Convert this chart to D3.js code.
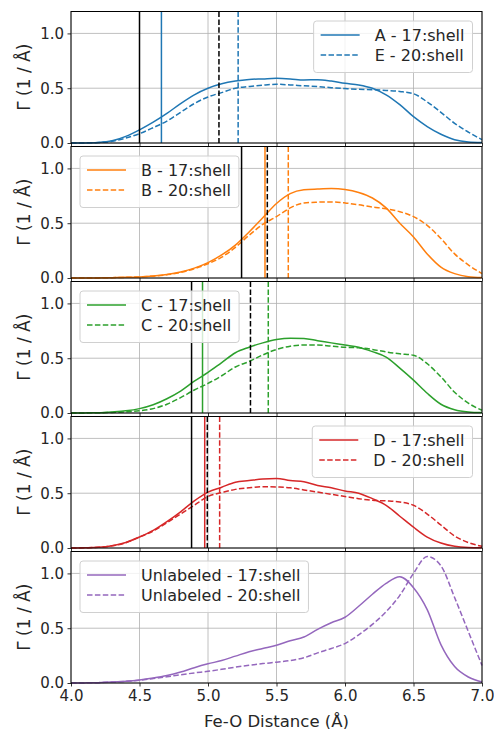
<!DOCTYPE html>
<html>
<head>
<meta charset="utf-8">
<script src="https://cdn.jsdelivr.net/npm/d3@7"></script>
<style>
  body { margin: 0; background: #fff; }
  svg { display: block; font-family: "DejaVu Sans", sans-serif; }
</style>
</head>
<body>
<div id="chart"></div>
<script>
// === Data ===
const distance = [4.0, 4.1, 4.2, 4.3, 4.4, 4.5, 4.6, 4.7, 4.8, 4.9, 5.0, 5.1, 5.2, 5.3, 5.4, 5.5,
                  5.6, 5.7, 5.8, 5.9, 6.0, 6.1, 6.2, 6.3, 6.4, 6.5, 6.6, 6.7, 6.8, 6.9, 7.0];

const seriesA17 = [0, 0.001, 0.005, 0.02, 0.06, 0.12, 0.19, 0.27, 0.36, 0.44, 0.50, 0.54, 0.565, 0.58, 0.585, 0.59,
                   0.585, 0.575, 0.578, 0.565, 0.545, 0.53, 0.50, 0.44, 0.35, 0.24, 0.15, 0.08, 0.03, 0.01, 0.005];
const seriesE20 = [0, 0.001, 0.004, 0.015, 0.045, 0.085, 0.14, 0.20, 0.28, 0.36, 0.42, 0.46, 0.50, 0.515, 0.528, 0.536,
                   0.53, 0.522, 0.515, 0.505, 0.497, 0.49, 0.487, 0.48, 0.47, 0.45, 0.375, 0.28, 0.18, 0.10, 0.03];
const seriesB17 = [0, 0, 0.001, 0.003, 0.006, 0.01, 0.018, 0.032, 0.055, 0.09, 0.14, 0.21, 0.30, 0.42, 0.55, 0.68,
                   0.77, 0.805, 0.812, 0.816, 0.807, 0.78, 0.73, 0.64, 0.50, 0.375, 0.22, 0.10, 0.04, 0.012, 0.004];
const seriesB20 = [0, 0, 0.001, 0.003, 0.006, 0.01, 0.017, 0.03, 0.05, 0.085, 0.13, 0.19, 0.28, 0.39, 0.49, 0.56,
                   0.64, 0.685, 0.692, 0.694, 0.685, 0.668, 0.648, 0.632, 0.605, 0.56, 0.48, 0.36, 0.22, 0.12, 0.04];
const seriesC17 = [0, 0.001, 0.003, 0.01, 0.02, 0.04, 0.075, 0.13, 0.20, 0.29, 0.37, 0.46, 0.55, 0.60, 0.64, 0.67,
                   0.683, 0.68, 0.66, 0.64, 0.62, 0.60, 0.56, 0.51, 0.41, 0.30, 0.18, 0.08, 0.03, 0.01, 0.004];
const seriesC20 = [0, 0.001, 0.002, 0.005, 0.01, 0.02, 0.04, 0.08, 0.14, 0.21, 0.27, 0.34, 0.42, 0.47, 0.53, 0.58,
                   0.61, 0.62, 0.62, 0.61, 0.60, 0.595, 0.58, 0.557, 0.54, 0.527, 0.45, 0.33, 0.19, 0.09, 0.025];
const seriesD17 = [0, 0.002, 0.006, 0.02, 0.05, 0.10, 0.16, 0.24, 0.33, 0.43, 0.51, 0.555, 0.60, 0.615, 0.63, 0.635,
                   0.615, 0.605, 0.57, 0.55, 0.52, 0.50, 0.45, 0.39, 0.29, 0.19, 0.10, 0.045, 0.015, 0.005, 0.003];
const seriesD20 = [0, 0.002, 0.006, 0.02, 0.048, 0.10, 0.155, 0.23, 0.31, 0.39, 0.47, 0.505, 0.535, 0.55, 0.56, 0.557,
                   0.55, 0.53, 0.51, 0.49, 0.47, 0.45, 0.435, 0.43, 0.42, 0.39, 0.31, 0.21, 0.11, 0.05, 0.015];
const seriesU17 = [0, 0.001, 0.003, 0.008, 0.015, 0.027, 0.045, 0.068, 0.10, 0.14, 0.175, 0.205, 0.245, 0.285, 0.315, 0.345,
                   0.385, 0.42, 0.49, 0.55, 0.60, 0.70, 0.81, 0.91, 0.97, 0.87, 0.67, 0.35, 0.15, 0.055, 0.01];
const seriesU20 = [0, 0.001, 0.003, 0.008, 0.015, 0.025, 0.04, 0.057, 0.075, 0.092, 0.107, 0.125, 0.145, 0.162, 0.177, 0.19,
                   0.205, 0.23, 0.275, 0.315, 0.36, 0.44, 0.535, 0.65, 0.80, 1.00, 1.155, 1.07, 0.78, 0.47, 0.16];

// vertical markers: [17:shell, 20:shell] in series colour, and black reference pair
const markersColor = [[4.66, 5.22], [5.416, 5.586], [4.96, 5.44], [4.976, 5.085], []];
const markersBlack = [[4.50, 5.08], [5.245, 5.433], [4.88, 5.31], [4.88, 4.995], []];

const labels17 = ["A - 17:shell", "B - 17:shell", "C - 17:shell", "D - 17:shell", "Unlabeled - 17:shell"];
const labels20 = ["E - 20:shell", "B - 20:shell", "C - 20:shell", "D - 20:shell", "Unlabeled - 20:shell"];
const colors = ["#1f77b4", "#ff7f0e", "#2ca02c", "#d62728", "#9467bd"];
const legendSide = ["right", "left", "left", "right", "left"];
const solidSeries = [seriesA17, seriesB17, seriesC17, seriesD17, seriesU17];
const dashedSeries = [seriesE20, seriesB20, seriesC20, seriesD20, seriesU20];

const xTicks = [4.0, 4.5, 5.0, 5.5, 6.0, 6.5, 7.0];
const yTicks = [0.0, 0.5, 1.0];

// === Layout ===
const W = 494, H = 729;
const left = 71, right = 482;
const top0 = 11.5, panelH = 131.5, pitch = 135;
const DASH = "5.5,2.4";
const TEXT = "#262626";

const svg = d3.select("#chart").append("svg").attr("width", W).attr("height", H);

const x = d3.scaleLinear().domain([4.0, 7.0]).range([left, right]);
const y = d3.scaleLinear().domain([0, 1.2]).range([panelH, 0]);

const line = d3.line()
    .x(d => x(d[0]))
    .y(d => y(d[1]))
    .curve(d3.curveMonotoneX);

for (let i = 0; i < 5; i++) {
    const g = svg.append("g").attr("transform", `translate(0,${top0 + i * pitch})`);

    // grid
    g.selectAll(".gx").data(xTicks).enter().append("line")
        .attr("x1", d => x(d)).attr("x2", d => x(d))
        .attr("y1", 0).attr("y2", panelH)
        .attr("stroke", "#b0b0b0").attr("stroke-width", 0.8);
    g.selectAll(".gy").data(yTicks).enter().append("line")
        .attr("x1", left).attr("x2", right)
        .attr("y1", d => y(d)).attr("y2", d => y(d))
        .attr("stroke", "#b0b0b0").attr("stroke-width", 0.8);

    // curves
    const solid = distance.map((d, k) => [d, solidSeries[i][k]]);
    const dashed = distance.map((d, k) => [d, dashedSeries[i][k]]);
    g.append("path").datum(solid).attr("d", line)
        .attr("fill", "none").attr("stroke", colors[i]).attr("stroke-width", 1.5);
    g.append("path").datum(dashed).attr("d", line)
        .attr("fill", "none").attr("stroke", colors[i]).attr("stroke-width", 1.5)
        .attr("stroke-dasharray", DASH);

    // vertical markers
    markersColor[i].forEach((v, k) => {
        g.append("line").attr("x1", x(v)).attr("x2", x(v)).attr("y1", 0).attr("y2", panelH)
            .attr("stroke", colors[i]).attr("stroke-width", 1.5)
            .attr("stroke-dasharray", k === 1 ? DASH : null);
    });
    markersBlack[i].forEach((v, k) => {
        g.append("line").attr("x1", x(v)).attr("x2", x(v)).attr("y1", 0).attr("y2", panelH)
            .attr("stroke", "#000").attr("stroke-width", 1.5)
            .attr("stroke-dasharray", k === 1 ? DASH : null);
    });

    // axes
    const ax = g.append("g").attr("transform", `translate(0,${panelH})`)
        .call(d3.axisBottom(x).tickValues(xTicks).tickSize(3.5).tickPadding(3.5)
            .tickFormat(i === 4 ? d3.format(".1f") : () => ""));
    const ay = g.append("g").attr("transform", `translate(${left},0)`)
        .call(d3.axisLeft(y).tickValues(yTicks).tickSize(3.5).tickPadding(3.5).tickFormat(d3.format(".1f")));
    [ax, ay].forEach(a => {
        a.select(".domain").remove();
        a.selectAll(".tick line").attr("stroke", "#000").attr("stroke-width", 0.8);
        a.selectAll(".tick text").attr("fill", TEXT).style("font-size", "15px")
            .style("font-family", "DejaVu Sans, sans-serif");
    });

    // frame
    g.append("rect").attr("x", left).attr("y", 0).attr("width", right - left).attr("height", panelH)
        .attr("fill", "none").attr("stroke", "#000").attr("stroke-width", 1);

    // y label
    g.append("text")
        .attr("transform", `translate(24,${panelH / 2}) rotate(-90)`)
        .attr("text-anchor", "middle").attr("dominant-baseline", "central")
        .attr("fill", TEXT).style("font-size", "17px")
        .text("\u0393 (1 / \u00c5)");

    // legend
    const lg = g.append("g");
    const box = lg.append("rect").attr("rx", 3).attr("ry", 3)
        .attr("fill", "#fff").attr("fill-opacity", 0.8)
        .attr("stroke", "#d0d0d0").attr("stroke-width", 1);
    const t1 = lg.append("text").attr("x", 61).attr("y", 14).attr("dominant-baseline", "central")
        .attr("fill", TEXT).style("font-size", "16px").text(labels17[i]);
    const t2 = lg.append("text").attr("x", 61).attr("y", 34).attr("dominant-baseline", "central")
        .attr("fill", TEXT).style("font-size", "16px").text(labels20[i]);
    lg.append("line").attr("x1", 7).attr("x2", 46).attr("y1", 14).attr("y2", 14)
        .attr("stroke", colors[i]).attr("stroke-width", 1.5);
    lg.append("line").attr("x1", 7).attr("x2", 46).attr("y1", 34).attr("y2", 34)
        .attr("stroke", colors[i]).attr("stroke-width", 1.5).attr("stroke-dasharray", DASH);
    const tw = Math.max(t1.node().getComputedTextLength(), t2.node().getComputedTextLength());
    const bw = 61 + tw + 8, bh = 51.5;
    box.attr("width", bw).attr("height", bh);
    const lx = legendSide[i] === "right" ? right - 9.5 - bw : left + 9;
    lg.attr("transform", `translate(${lx},9.5)`);
}

// x label
svg.append("text")
    .attr("x", (left + right) / 2).attr("y", 721)
    .attr("text-anchor", "middle").attr("dominant-baseline", "central")
    .attr("fill", TEXT).style("font-size", "16.5px")
    .text("Fe-O Distance (\u00c5)");
</script>
</body>
</html>
